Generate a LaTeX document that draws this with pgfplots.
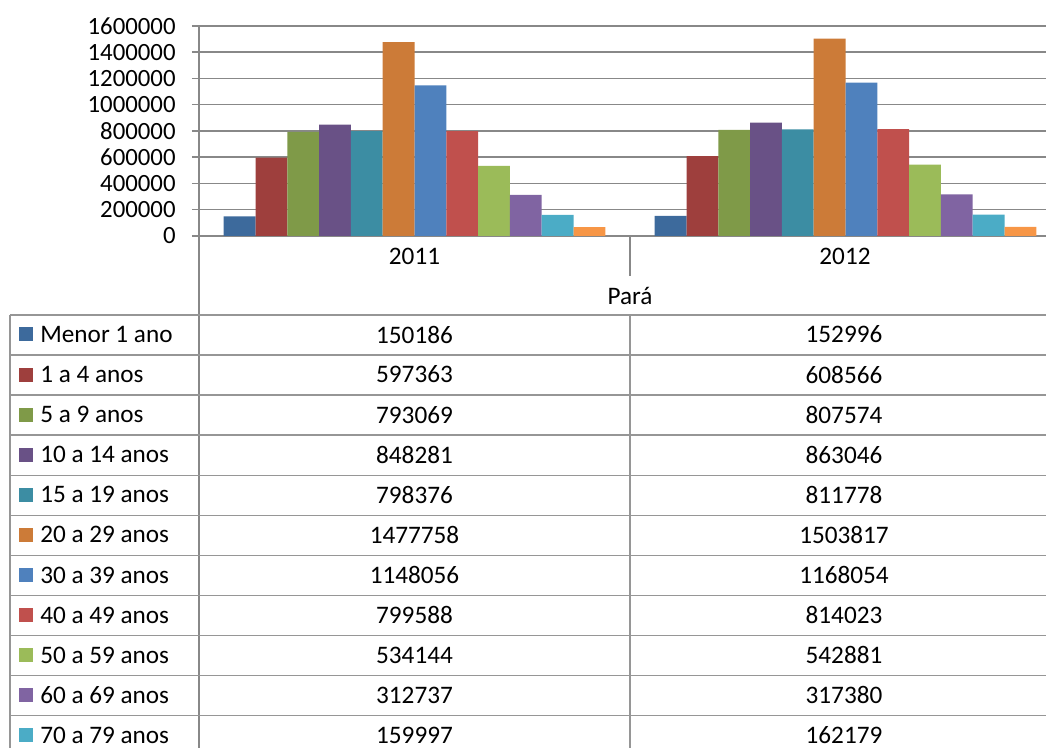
\documentclass[border=0pt]{standalone}
\usepackage{pgfplots}
\pgfplotsset{compat=1.18}
\usepackage{pgfplotstable}
\usepackage{fontspec}
\setmainfont{Carlito}
\definecolor{c1}{HTML}{3D6A9C}
\definecolor{c2}{HTML}{9E3F3D}
\definecolor{c3}{HTML}{7F9A48}
\definecolor{c4}{HTML}{695186}
\definecolor{c5}{HTML}{3C8DA3}
\definecolor{c6}{HTML}{CC7B38}
\definecolor{c7}{HTML}{4F81BD}
\definecolor{c8}{HTML}{C0504D}
\definecolor{c9}{HTML}{9BBB59}
\definecolor{c10}{HTML}{8064A2}
\definecolor{c11}{HTML}{4BACC6}
\definecolor{c12}{HTML}{F79646}
\definecolor{gridgray}{RGB}{136,136,136}
\definecolor{tabgray}{RGB}{150,150,150}

\pgfplotstableread{
x s1 s2 s3 s4 s5 s6 s7 s8 s9 s10 s11 s12
0 150186 597363 793069 848281 798376 1477758 1148056 799588 534144 312737 159997 68000
1 152996 608566 807574 863046 811778 1503817 1168054 814023 542881 317380 162179 69500
}\data

\begin{document}
\begin{tikzpicture}[x=0.5pt,y=-0.5pt,every node/.style={font=\fontsize{12.6}{15}\selectfont}]
\path[use as bounding box] (0,0) rectangle (1046,748);
\clip (0,0) rectangle (1046,748);
\begin{axis}[
  at={(99.5pt,-118pt)}, anchor=south west,
  scale only axis, width=431pt, height=105pt,
  xmin=-0.5, xmax=1.5, ymin=0, ymax=1600000,
  ytick={0,200000,400000,600000,800000,1000000,1200000,1400000,1600000},
  xtick=\empty,
  axis lines=left, axis line style={draw=none},
  ymajorgrids, grid style={gridgray, line width=0.75pt},
  tick align=outside, major tick length=3.5pt,
  major tick style={gridgray, line width=0.75pt},
  scaled y ticks=false,
  /pgf/number format/assume math mode=true,
  yticklabel style={/pgf/number format/fixed, /pgf/number format/1000 sep={},
    font=\fontsize{12.4}{15}\selectfont, anchor=east, inner sep=0pt, xshift=-8pt},
  ybar=0pt, bar width=15.9pt, clip=false,
]
\addplot[fill=c1, draw=none] table[x=x,y=s1]{\data};
\addplot[fill=c2, draw=none] table[x=x,y=s2]{\data};
\addplot[fill=c3, draw=none] table[x=x,y=s3]{\data};
\addplot[fill=c4, draw=none] table[x=x,y=s4]{\data};
\addplot[fill=c5, draw=none] table[x=x,y=s5]{\data};
\addplot[fill=c6, draw=none] table[x=x,y=s6]{\data};
\addplot[fill=c7, draw=none] table[x=x,y=s7]{\data};
\addplot[fill=c8, draw=none] table[x=x,y=s8]{\data};
\addplot[fill=c9, draw=none] table[x=x,y=s9]{\data};
\addplot[fill=c10, draw=none] table[x=x,y=s10]{\data};
\addplot[fill=c11, draw=none] table[x=x,y=s11]{\data};
\addplot[fill=c12, draw=none] table[x=x,y=s12]{\data};
\end{axis}
% vertical lines
\draw[gridgray, line width=0.75pt] (199,27) -- (199,748);
\draw[gridgray, line width=0.75pt] (630,236) -- (630,276);
\draw[tabgray, line width=0.75pt] (630,315) -- (630,748);
\draw[tabgray, line width=0.75pt] (10,315) -- (10,748);
\foreach \k in {0,...,11} {
  \draw[tabgray, line width=0.75pt] (10,{315+40.07*\k}) -- (1046,{315+40.07*\k});
}
\node at (414.5,256) {2011};
\node at (845,256) {2012};
\node at (630,296) {Pará};
\foreach \i/\lab in {1/Menor 1 ano,2/1 a 4 anos,3/5 a 9 anos,4/10 a 14 anos,5/15 a 19 anos,6/20 a 29 anos,7/30 a 39 anos,8/40 a 49 anos,9/50 a 59 anos,10/60 a 69 anos,11/70 a 79 anos} {
  \pgfmathsetmacro{\rc}{315+40.07*(\i-1)+19.5}
  \fill[c\i] (19,\rc-7) rectangle (33,\rc+7);
  \node[anchor=west, inner sep=0pt] at (40,\rc) {\lab};
  \node[inner sep=0pt] at (414.5,\rc) {\pgfplotstablegetelem{0}{s\i}\of\data\pgfplotsretval};
  \node[inner sep=0pt] at (844,\rc) {\pgfplotstablegetelem{1}{s\i}\of\data\pgfplotsretval};
}
\end{tikzpicture}
\end{document}
